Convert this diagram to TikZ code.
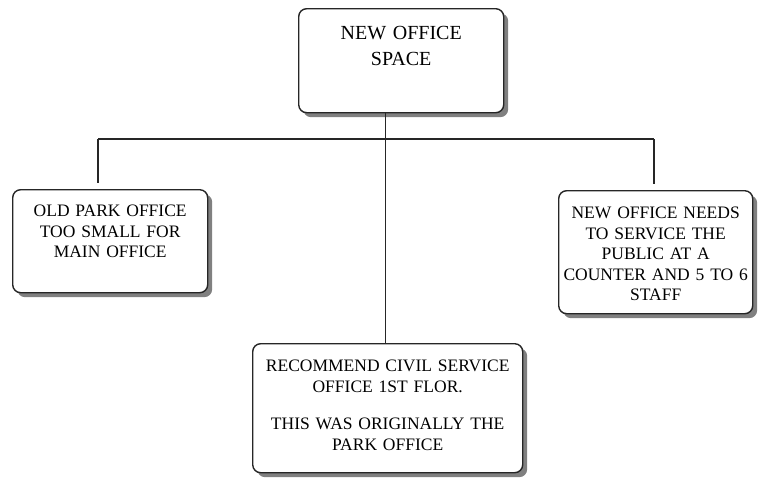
\documentclass[tikz,border=0pt]{standalone}
\usepackage{fontspec}
\setmainfont{Liberation Serif}
\usetikzlibrary{shadows}

\begin{document}
\begin{tikzpicture}[x=1pt,y=-1pt,
  box/.style={draw=black!85, line width=1.4pt, rounded corners=8pt, fill=white,
    inner sep=0pt, anchor=north west, align=center,
    drop shadow={shadow xshift=4.5pt, shadow yshift=-4.5pt, fill=black!50, opacity=1},
    font=\fontsize{17.5}{20.5}\selectfont},
  link/.style={draw=black!85, line width=1.3pt}]
\useasboundingbox (0,0) rectangle (760,477);
\node[box, text width=205pt, text height=31pt, text depth=73pt,
  font=\fontsize{20}{26}\selectfont] (space) at (298,8) {NEW OFFICE\\SPACE};
\node[box, text width=195pt, text height=27pt, text depth=76pt] (old) at (12,189)
  {OLD PARK OFFICE\\TOO SMALL FOR\\MAIN OFFICE};
\node[box, text width=194pt, text height=28pt, text depth=95pt] (needs) at (558,190)
  {NEW OFFICE NEEDS\\TO SERVICE THE\\PUBLIC AT A\\COUNTER AND 5 TO 6\\STAFF};
\node[box, text width=270pt, text height=28pt, text depth=101pt] (civil) at (252,343)
  {RECOMMEND CIVIL SERVICE\\OFFICE 1ST FLOR.\\[17pt]THIS WAS ORIGINALLY THE\\PARK OFFICE};
% connectors
\coordinate (jl) at (98,139);
\coordinate (jr) at (654,139);
\draw[link] (jl) -- (jr);
\draw[link] (jl) -- ([yshift=6pt]old.north -| jl);
\draw[link] (jr) -- ([yshift=6pt]needs.north -| jr);
\draw[link] ([xshift=-2pt]space.south -| civil.north) -- ([xshift=-2pt]civil.north);
\end{tikzpicture}
\end{document}
